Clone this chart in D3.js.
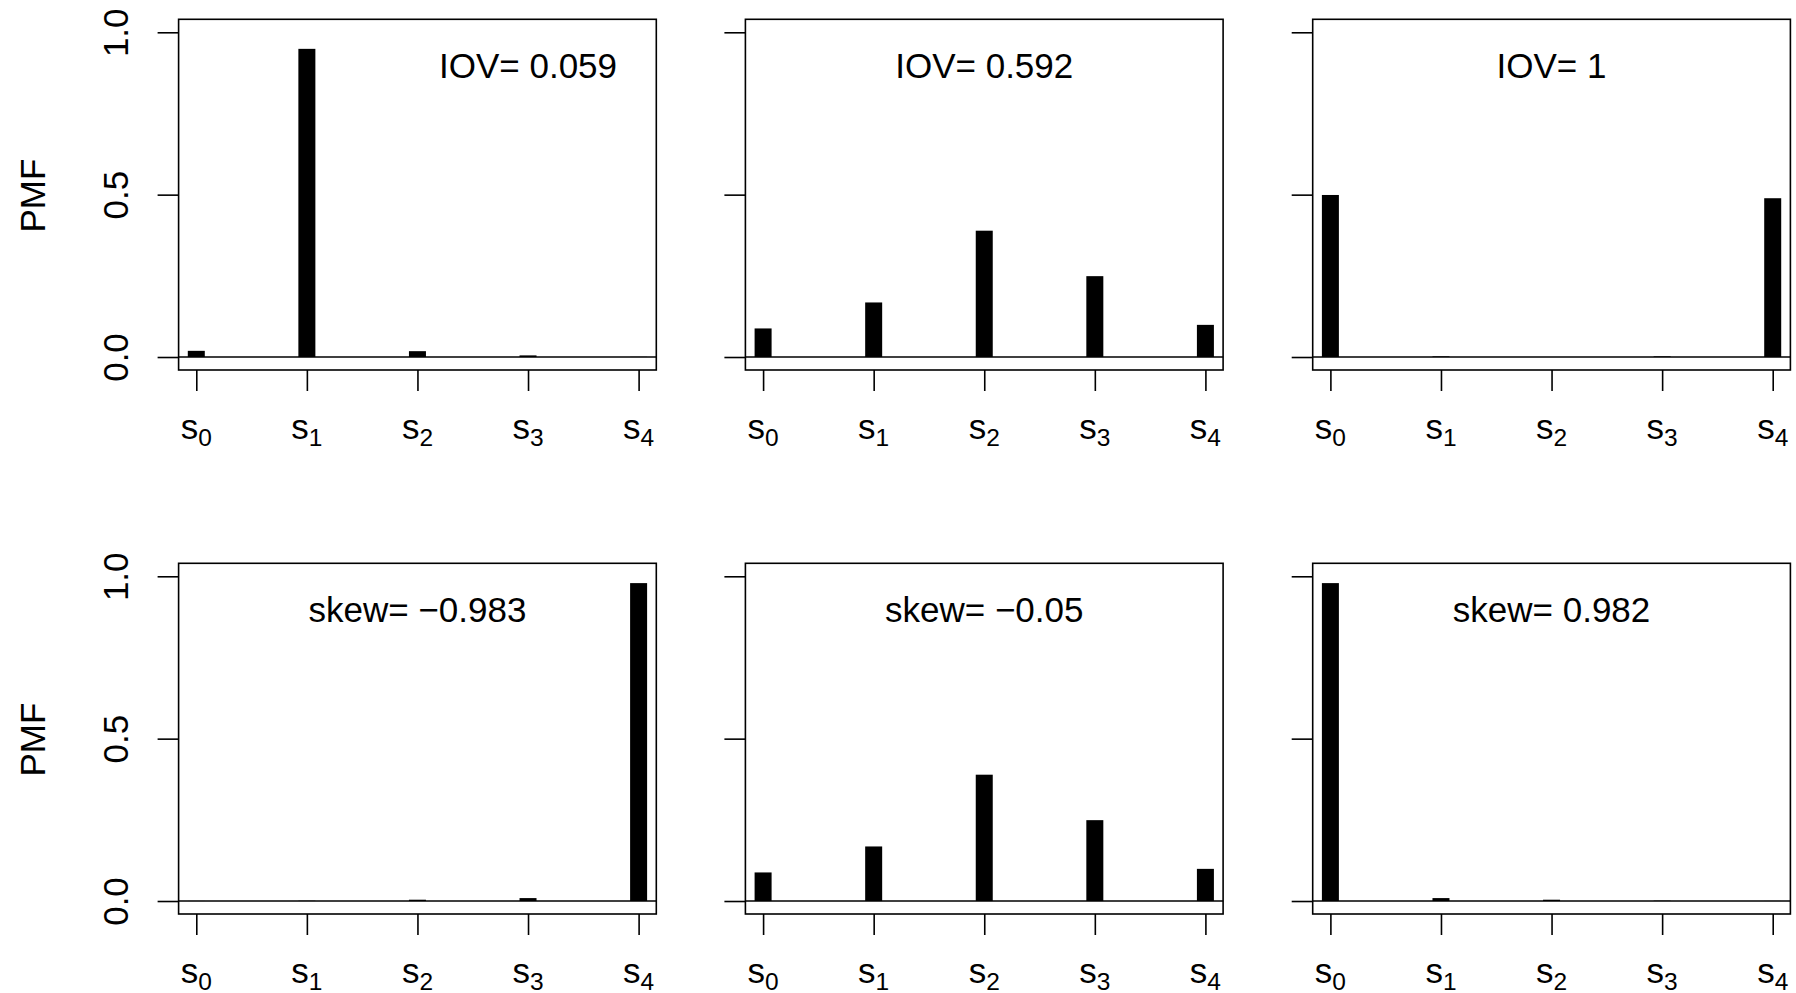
<!DOCTYPE html>
<html>
<head>
<meta charset="utf-8">
<script src="https://cdn.jsdelivr.net/npm/d3@7"></script>
<style>
  body { margin: 0; background: #fff; }
  text { font-family: "Liberation Sans", Arial, Helvetica, sans-serif; fill: #000; }
</style>
</head>
<body>
<div id="chart"></div>
<script>
// states s0..s4 on the x axis
const states = [0, 1, 2, 3, 4];
const yTicks = [0, 0.5, 1];

// PMF values, one array per panel
const iovLow  = [0.019, 0.949, 0.018, 0.005, 0.0005];
const iovMid  = [0.088, 0.168, 0.389, 0.249, 0.099];
const iovHigh = [0.499, 0.002, 0.0, 0.002, 0.489];
const skewNeg  = [0.0002, 0.0008, 0.004, 0.009, 0.979];
const skewZero = [0.088, 0.168, 0.389, 0.249, 0.099];
const skewPos  = [0.979, 0.009, 0.004, 0.001, 0.0002];

const panelValues = [iovLow, iovMid, iovHigh, skewNeg, skewZero, skewPos];
const panelLabels = ["IOV= 0.059", "IOV= 0.592", "IOV= 1",
                     "skew= \u22120.983", "skew= \u22120.05", "skew= 0.982"];
const labelX = [3, 2, 2, 2, 2, 2];   // x position (state) of the label
const labelY = 0.9;

const W = 1796, H = 993;
const boxLeft = [178.6, 745.4, 1312.7],
      boxTop = [19.3, 563.3],
      boxW = 477.7,
      boxH = 350.7;
const fontSize = 35,
      tickLen = 21,
      barW = 17,
      lw = 1.6;

const svg = d3.select("#chart").append("svg")
    .attr("width", W)
    .attr("height", H);

panelValues.forEach((vals, p) => {
    const col = p % 3, row = Math.floor(p / 3);
    const left = boxLeft[col], top = boxTop[row];

    const x = d3.scaleLinear().domain([-0.16, 4.16]).range([left, left + boxW]);
    const y = d3.scaleLinear().domain([-0.04, 1.04]).range([top + boxH, top]);

    const g = svg.append("g").attr("class", "panel");

    // bars (type = "h" style)
    g.selectAll(".bar")
        .data(vals)
        .enter()
        .append("rect")
        .attr("class", "bar")
        .attr("x", (d, i) => x(states[i]) - barW / 2)
        .attr("width", barW)
        .attr("y", d => y(d))
        .attr("height", d => y(0) - y(d))
        .attr("fill", "#000");

    // zero line across the plot
    g.append("line")
        .attr("x1", left).attr("x2", left + boxW)
        .attr("y1", y(0)).attr("y2", y(0))
        .attr("stroke", "#000").attr("stroke-width", lw);

    // frame
    g.append("rect")
        .attr("x", left).attr("y", top)
        .attr("width", boxW).attr("height", boxH)
        .attr("fill", "none")
        .attr("stroke", "#000").attr("stroke-width", lw);

    // x axis ticks
    const xAxis = g.append("g")
        .attr("transform", "translate(0," + (top + boxH) + ")")
        .call(d3.axisBottom(x).tickValues(states).tickSize(tickLen).tickFormat(""));
    xAxis.select(".domain").remove();
    xAxis.selectAll("line").attr("stroke", "#000").attr("stroke-width", lw);

    // x labels s with subscript
    const xl = g.selectAll(".xlab")
        .data(states)
        .enter()
        .append("text")
        .attr("class", "xlab")
        .attr("x", d => x(d))
        .attr("y", top + boxH + 69.3)
        .attr("text-anchor", "middle")
        .style("font-size", fontSize + "px");
    xl.append("tspan").text("s");
    xl.append("tspan")
        .attr("dy", 7)
        .style("font-size", (fontSize * 0.7) + "px")
        .text(d => d);

    // y axis ticks
    const yAxis = g.append("g")
        .attr("transform", "translate(" + left + ",0)")
        .call(d3.axisLeft(y).tickValues(yTicks).tickSize(tickLen)
            .tickFormat(col === 0 ? d3.format(".1f") : ""));
    yAxis.select(".domain").remove();
    yAxis.selectAll("line").attr("stroke", "#000").attr("stroke-width", lw);
    yAxis.selectAll("text")
        .attr("x", null)
        .attr("dy", null)
        .attr("transform", "translate(-51,0) rotate(-90)")
        .attr("text-anchor", "middle")
        .attr("fill", "#000")
        .style("font-family", "'Liberation Sans', Arial, sans-serif")
        .style("font-size", fontSize + "px");

    if (col === 0) {
        g.append("text")
            .attr("transform", "translate(45," + (top + boxH / 2 + 1) + ") rotate(-90)")
            .attr("text-anchor", "middle")
            .style("font-size", fontSize + "px")
            .text("PMF");
    }

    // panel statistic label
    g.append("text")
        .attr("x", x(labelX[p]))
        .attr("y", y(labelY))
        .attr("dy", "0.37em")
        .attr("text-anchor", "middle")
        .style("font-size", fontSize + "px")
        .text(panelLabels[p]);
});
</script>
</body>
</html>
